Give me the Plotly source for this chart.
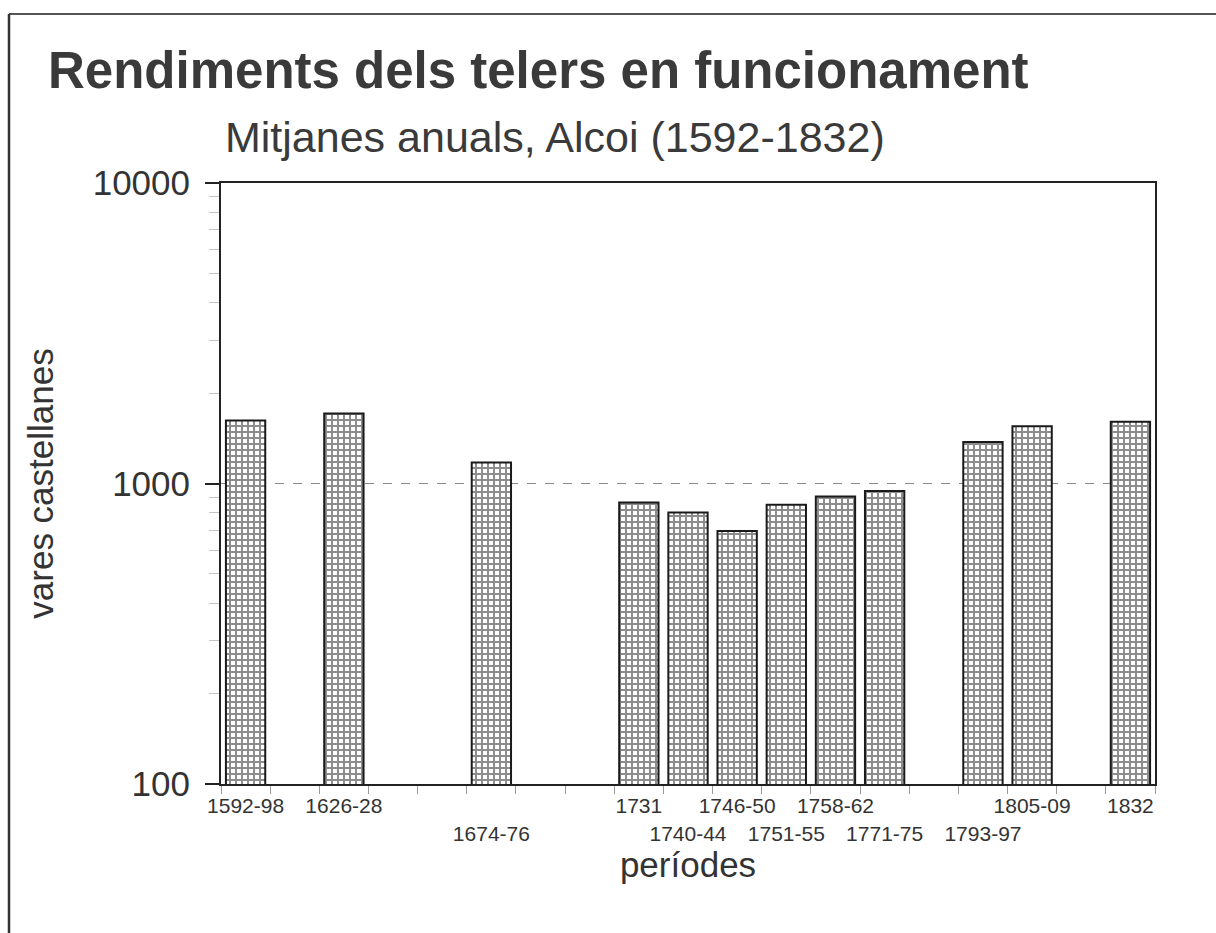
import plotly.graph_objects as go

# Periods along the time axis (empty strings are unused slots between periods)
periods = ["1592-98", "", "1626-28", "", "", "1674-76", "", "", "1731",
           "1740-44", "1746-50", "1751-55", "1758-62", "1771-75", "",
           "1793-97", "1805-09", "", "1832"]
# Annual mean output per working loom (vares castellanes)
rendiment = [1620, None, 1710, None, None, 1175, None, None, 865,
             800, 695, 850, 905, 945, None,
             1375, 1550, None, 1605]
# Labels set on the second row under the axis
lower_row = ["1674-76", "1740-44", "1751-55", "1771-75", "1793-97"]

y_ticks = [100, 1000, 10000]
y_minor = [200, 300, 400, 500, 600, 700, 800, 900,
           2000, 3000, 4000, 5000, 6000, 7000, 8000, 9000]

W, H = 1216, 933
L, R, T, B = 221, 1155, 183, 784  # plot area in pixels

def px_x(p):
    return (p - L) / (R - L)

def px_y(p):
    return (B - p) / (B - T)

slots = list(range(len(periods)))
bar_x = [s for s, v in zip(slots, rendiment) if v is not None]
bar_y = [v for v in rendiment if v is not None]

tick_vals = [s for s, p in zip(slots, periods) if p]
tick_text = [("<br>" + p) if p in lower_row else p for p in periods if p]

ink = "#333333"
font = "Liberation Sans, Arial, sans-serif"

fig = go.Figure()
fig.add_trace(go.Bar(
    x=bar_x, y=bar_y, width=0.8,
    marker=dict(
        color="white",
        line=dict(color="#1a1a1a", width=2),
        pattern=dict(shape="+", fgcolor="#1a1a1a", bgcolor="white",
                     size=6, solidity=0.55),
    ),
    showlegend=False,
))

shapes = [
    # reference line at 1000
    dict(type="line", xref="x", yref="y", x0=-0.5, x1=18.5, y0=1000, y1=1000,
         line=dict(color="#8a8a8a", width=1.2, dash="dash"), layer="below"),
    # page frame (top and left edges)
    dict(type="line", xref="paper", yref="paper",
         x0=px_x(9), x1=px_x(W), y0=px_y(14), y1=px_y(14),
         line=dict(color="#555555", width=2)),
    dict(type="line", xref="paper", yref="paper",
         x0=px_x(9), x1=px_x(9), y0=px_y(14), y1=px_y(H),
         line=dict(color="#333333", width=2.5)),
]

annotations = [
    dict(text="<b>Rendiments dels telers en funcionament</b>",
         xref="paper", yref="paper", x=px_x(46), y=px_y(71),
         xanchor="left", yanchor="middle", showarrow=False,
         font=dict(family=font, size=51, color="#3a3a3a")),
    dict(text="Mitjanes anuals, Alcoi (1592-1832)",
         xref="paper", yref="paper", x=px_x(555), y=px_y(137),
         xanchor="center", yanchor="middle", showarrow=False,
         font=dict(family=font, size=43, color="#3a3a3a")),
]

fig.update_layout(
    width=W, height=H,
    margin=dict(l=L, r=W - R, t=T, b=H - B, pad=0),
    paper_bgcolor="white", plot_bgcolor="white",
    shapes=shapes, annotations=annotations,
    bargap=0.2,
    xaxis=dict(
        range=[-0.5, 18.5],
        tickmode="array", tickvals=tick_vals, ticktext=tick_text,
        tickangle=0,
        ticks="", showgrid=False, zeroline=False,
        showline=True, linecolor="#222222", linewidth=2, mirror=True,
        tickfont=dict(family=font, size=21, color=ink),
        ticklabelstandoff=2,
        minor=dict(tickmode="array",
                   tickvals=[s - 0.5 for s in slots] + [len(slots) - 0.5],
                   ticks="outside", ticklen=8, tickcolor="#9a9a9a", tickwidth=1,
                   showgrid=False),
        title=dict(text="períodes", standoff=0,
                   font=dict(family=font, size=35, color=ink)),
    ),
    yaxis=dict(
        type="log", range=[2, 4],
        tickmode="array", tickvals=y_ticks, ticktext=[str(v) for v in y_ticks],
        ticks="outside", ticklen=14, tickcolor="#222222", tickwidth=2,
        showgrid=False, zeroline=False,
        showline=True, linecolor="#222222", linewidth=2, mirror=True,
        tickfont=dict(family=font, size=35, color=ink),
        ticklabelstandoff=8,
        minor=dict(tickmode="array", tickvals=y_minor,
                   ticks="outside", ticklen=10, tickcolor="#c4c4c4", tickwidth=1,
                   showgrid=False),
        title=dict(text="vares castellanes", standoff=28,
                   font=dict(family=font, size=35, color=ink)),
    ),
)

fig.write_html("out.html")
